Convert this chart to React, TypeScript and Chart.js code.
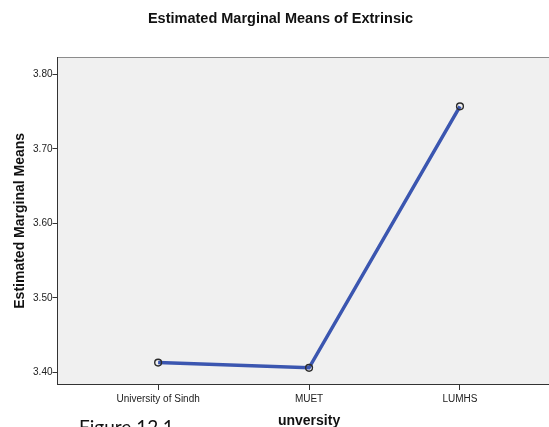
import React, { useEffect, useRef } from "react";
import { Chart, registerables } from "chart.js";

Chart.register(...registerables);

const categories = ["University of Sindh", "MUET", "LUMHS"];
const means = [3.413, 3.406, 3.757];
const yTicks = [3.4, 3.5, 3.6, 3.7, 3.8];

const FONT = "'Liberation Sans', Arial, Helvetica, sans-serif";

const plotFrame = {
  id: "plotFrame",
  beforeDraw(chart: any) {
    const { ctx, chartArea } = chart;
    const { left, top, right, bottom } = chartArea;
    ctx.save();
    ctx.fillStyle = "#f0f0f0";
    ctx.fillRect(left, top, right - left, bottom - top);
    ctx.strokeStyle = "#8c8c8c";
    ctx.lineWidth = 1;
    ctx.beginPath();
    ctx.moveTo(left, Math.floor(top) + 0.5);
    ctx.lineTo(right, Math.floor(top) + 0.5);
    ctx.moveTo(Math.floor(right) + 0.5, top);
    ctx.lineTo(Math.floor(right) + 0.5, bottom);
    ctx.stroke();
    ctx.restore();
  },
};

export default function App() {
  const ref = useRef<HTMLCanvasElement>(null);

  useEffect(() => {
    document.body.style.margin = "0";
    document.body.style.overflow = "hidden";
    const chart = new Chart(ref.current as HTMLCanvasElement, {
      type: "line",
      data: {
        datasets: [
          {
            data: means.map((v, i) => ({ x: i, y: v })),
            borderColor: "#3b56b0",
            borderWidth: 3.5,
            pointRadius: 3.4,
            pointBorderColor: "#2b2b2b",
            pointBorderWidth: 1.4,
            pointBackgroundColor: "rgba(0,0,0,0)",
            tension: 0,
          },
        ],
      },
      options: {
        responsive: false,
        animation: false,
        devicePixelRatio: 1,
        layout: { padding: { left: 0, right: 5, top: 0, bottom: 0 } },
        plugins: {
          legend: { display: false },
          tooltip: { enabled: false },
          title: {
            display: true,
            text: "Estimated Marginal Means of Extrinsic",
            color: "#111111",
            font: { family: FONT, size: 14.5, weight: "bold" },
            padding: { top: 10.3, bottom: 29.9 },
          },
        },
        scales: {
          x: {
            type: "linear",
            min: -2 / 3,
            max: 8 / 3,
            afterFit: (s: any) => {
              s.height = 56;
            },
            afterBuildTicks: (s: any) => {
              s.ticks = categories.map((_, i) => ({ value: i }));
            },
            ticks: {
              callback: (v: any) => categories[Math.round(Number(v))],
              font: { family: FONT, size: 10 },
              color: "#222222",
              padding: 2.8,
              autoSkip: false,
              maxRotation: 0,
            },
            grid: {
              display: true,
              drawOnChartArea: false,
              drawTicks: true,
              tickLength: 6,
              color: "#333333",
            },
            border: { display: true, color: "#333333", width: 1 },
            title: {
              display: true,
              text: "unversity",
              color: "#111111",
              font: { family: FONT, size: 14, weight: "bold" },
              padding: { top: 0, bottom: 10.2 },
            },
          },
          y: {
            type: "linear",
            min: 3.3843,
            max: 3.8224,
            afterFit: (s: any) => {
              s.width = 57.5;
            },
            afterBuildTicks: (s: any) => {
              s.ticks = yTicks.map((v) => ({ value: v }));
            },
            ticks: {
              callback: (v: any) => Number(v).toFixed(2),
              font: { family: FONT, size: 10 },
              color: "#222222",
              padding: 0,
            },
            grid: {
              display: true,
              drawOnChartArea: false,
              drawTicks: true,
              tickLength: 5,
              color: "#333333",
            },
            border: { display: true, color: "#333333", width: 1 },
            title: {
              display: true,
              text: "Estimated Marginal Means",
              color: "#111111",
              font: { family: FONT, size: 14, weight: "bold" },
              padding: { top: 11.3, bottom: 0 },
            },
          },
        },
      },
      plugins: [plotFrame],
    } as any);
    return () => chart.destroy();
  }, []);

  return (
    <div
      style={{
        position: "relative",
        width: 549,
        height: 427,
        overflow: "hidden",
        background: "#ffffff",
      }}
    >
      <canvas
        ref={ref}
        width={566}
        height={440}
        style={{ display: "block", position: "absolute", left: 0, top: 0 }}
      />
      <div
        style={{
          position: "absolute",
          left: 79,
          top: 417,
          fontFamily: "Lato, 'Open Sans', sans-serif",
          fontSize: 19,
          lineHeight: 1,
          color: "#111111",
          whiteSpace: "nowrap",
        }}
      >
        Figure 12.1
      </div>
    </div>
  );
}
